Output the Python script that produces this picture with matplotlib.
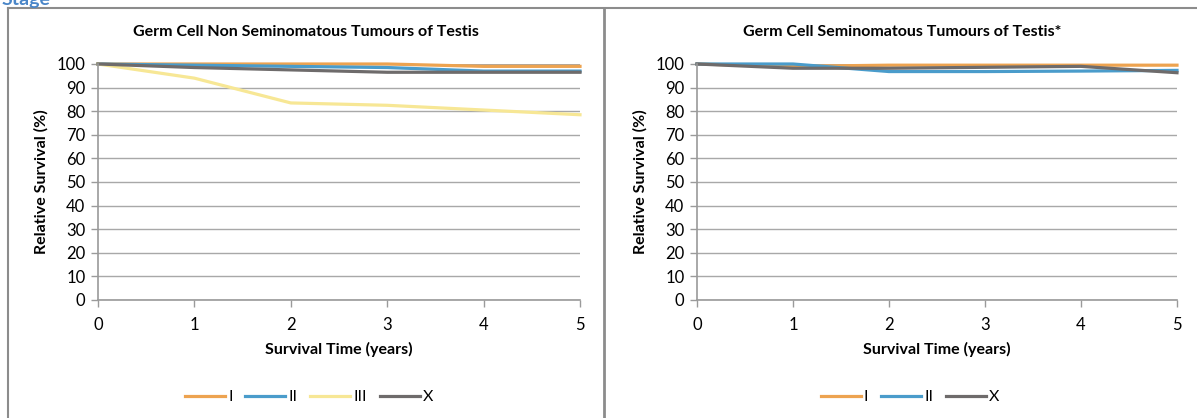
import matplotlib
matplotlib.use("Agg")
import matplotlib.pyplot as plt
from matplotlib.lines import Line2D

plt.rcParams['font.family'] = ['Lato', 'DejaVu Sans']

# data
years = [0, 1, 2, 3, 4, 5]

non_sem_title = "Germ Cell Non Seminomatous Tumours of Testis"
non_sem_I = [100, 100, 100, 100, 99, 99]
non_sem_II = [100, 99.5, 99, 98.5, 97, 97]
non_sem_III = [100, 94, 83.5, 82.5, 80.5, 78.5]
non_sem_X = [100, 98.5, 97.5, 96.5, 96.5, 96.5]

sem_title = "Germ Cell Seminomatous Tumours of Testis*"
sem_I = [100, 99, 99.5, 99.5, 99.5, 99.5]
sem_II = [100, 100, 96.8, 96.8, 97, 97.3]
sem_X = [100, 98.2, 98.2, 98.6, 99, 96.3]

colors = {"I": "#EDA350", "II": "#4A9CCB", "III": "#F7E795", "X": "#6E6B6B"}

W, H = 1197, 418
fig = plt.figure(figsize=(W / 100, H / 100), dpi=100)


def px_axes(x0, x1, ytop, ybot):
    return fig.add_axes([x0 / W, 1 - ybot / H, (x1 - x0) / W, (ybot - ytop) / H])


def style(ax, title, title_x):
    ax.set_xlim(0, 5)
    ax.set_ylim(0, 100)
    ax.set_xticks(years)
    ax.set_yticks(range(0, 101, 10))
    ax.grid(axis='y', color='#A8A8A8', linewidth=1)
    ax.set_axisbelow(True)
    for s in ['top', 'right']:
        ax.spines[s].set_visible(False)
    for s in ['left', 'bottom']:
        ax.spines[s].set_color('#9A9A9A')
        ax.spines[s].set_linewidth(1.2)
    ax.tick_params(axis='both', colors='#9A9A9A', length=5, width=1,
                   labelcolor='black', labelsize=12)
    ax.tick_params(axis='x', pad=7)
    ax.tick_params(axis='y', pad=4)
    # chart title is centred on the panel box, not on the plot area
    fig.text(title_x / W, 1 - 32 / H, title, fontsize=11.5, fontweight='bold',
             ha='center', va='center')
    ax.set_xlabel("Survival Time (years)", fontsize=11.5, fontweight='bold', labelpad=7)
    ax.set_ylabel("Relative Survival (%)", fontsize=11.5, fontweight='bold', labelpad=6)


ax1 = px_axes(98, 580, 64, 300)
ax1.plot(years, non_sem_I, color=colors["I"], lw=2.3, label="I", clip_on=False)
ax1.plot(years, non_sem_II, color=colors["II"], lw=2.3, label="II", clip_on=False)
ax1.plot(years, non_sem_III, color=colors["III"], lw=2.3, label="III", clip_on=False)
ax1.plot(years, non_sem_X, color=colors["X"], lw=2.3, label="X", clip_on=False)
style(ax1, non_sem_title, 306)

ax2 = px_axes(697, 1177, 64, 300)
ax2.plot(years, sem_I, color=colors["I"], lw=2.3, label="I", clip_on=False)
ax2.plot(years, sem_II, color=colors["II"], lw=2.3, label="II", clip_on=False)
ax2.plot(years, sem_X, color=colors["X"], lw=2.3, label="X", clip_on=False)
style(ax2, sem_title, 902)

leg_kw = dict(ncol=4, frameon=False, fontsize=11.5, handlelength=2.5,
              handletextpad=0.2, columnspacing=0.8, loc='center')
h1, l1 = ax1.get_legend_handles_labels()
fig.legend(h1, l1, bbox_to_anchor=(309 / W, 1 - 397 / H), **leg_kw)
h2, l2 = ax2.get_legend_handles_labels()
fig.legend(h2, l2, bbox_to_anchor=(910 / W, 1 - 397 / H), **leg_kw)

# panel borders
border = '#8C8C8C'
fig.add_artist(Line2D([8 / W, 8 / W], [1 - 8 / H, 0], transform=fig.transFigure, color=border, lw=1.5))
fig.add_artist(Line2D([8 / W, 1], [1 - 8 / H, 1 - 8 / H], transform=fig.transFigure, color=border, lw=1.5))
fig.add_artist(Line2D([604 / W, 604 / W], [1 - 8 / H, 0], transform=fig.transFigure, color=border, lw=2))

# section heading, cut by the top edge as in the original page crop
fig.text(2 / W, 1 - 5 / H, "Stage", color='#4A86C8', fontsize=14, fontweight='bold',
         ha='left', va='baseline')

fig.savefig("out.png", dpi=100)
